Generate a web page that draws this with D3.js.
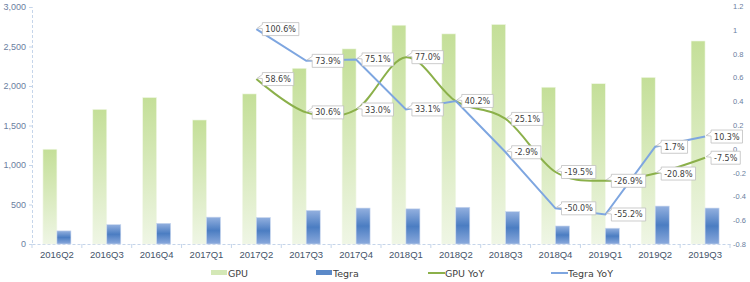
<!DOCTYPE html>
<html>
<head>
<meta charset="utf-8">
<script src="https://cdn.jsdelivr.net/npm/d3@7"></script>
<style>
  body { margin: 0; background: #fff; }
  svg { font-family: "DejaVu Sans", Verdana, sans-serif; }
</style>
</head>
<body>
<div id="chart"></div>
<script>
var quarters = ["2016Q2","2016Q3","2016Q4","2017Q1","2017Q2","2017Q3","2017Q4",
                "2018Q1","2018Q2","2018Q3","2018Q4","2019Q1","2019Q2","2019Q3"];
var gpu = [1200, 1705, 1855, 1570, 1900, 2225, 2470, 2770, 2660, 2780, 1985, 2030, 2110, 2570];
var tegra = [166, 245, 262, 340, 335, 425, 455, 445, 465, 410, 228, 200, 480, 455];
// YoY starts at 2017Q2, null before
var gpuYoy = [null, null, null, null, 0.586, 0.306, 0.330, 0.770, 0.400, 0.251, -0.195, -0.269, -0.208, -0.075];
var tegraYoy = [null, null, null, null, 1.006, 0.739, 0.751, 0.331, 0.402, -0.029, -0.500, -0.552, 0.017, 0.103];
var gpuLabelShow = [0,0,0,0,1,1,1,1,0,1,1,1,1,1];
var leftTicks = [0, 500, 1000, 1500, 2000, 2500, 3000];
var rightTicks = [-0.8, -0.6, -0.4, -0.2, 0, 0.2, 0.4, 0.6, 0.8, 1, 1.2];

var width = 750, height = 282;
var plot = {left: 32, right: 730, top: 7, bottom: 244};

var svg = d3.select("#chart").append("svg")
  .attr("width", width)
  .attr("height", height);

var defs = svg.append("defs");
var gG = defs.append("linearGradient").attr("id", "gpuGrad")
  .attr("x1", 0).attr("y1", 0).attr("x2", 0).attr("y2", 1);
gG.append("stop").attr("offset", "0%").attr("stop-color", "#c4df98");
gG.append("stop").attr("offset", "100%").attr("stop-color", "#eff6e5");
var tG = defs.append("linearGradient").attr("id", "tegraGrad")
  .attr("x1", 0).attr("y1", 0).attr("x2", 0).attr("y2", 1);
tG.append("stop").attr("offset", "0%").attr("stop-color", "#93b0df");
tG.append("stop").attr("offset", "50%").attr("stop-color", "#4b7dc2");
tG.append("stop").attr("offset", "100%").attr("stop-color", "#8aa9dc");

var x = d3.scaleBand().domain(quarters).range([plot.left, plot.right]);
var yL = d3.scaleLinear().domain([0, 3000]).range([plot.bottom, plot.top]);
var yR = d3.scaleLinear().domain([-0.8, 1.2]).range([plot.bottom, 6]);
var barW = 14;

// axes
var leftAxis = d3.axisLeft(yL).tickValues(leftTicks).tickSize(3).tickFormat(d3.format(","));
var gl = svg.append("g").attr("transform", "translate(" + plot.left + ",0)").call(leftAxis);
gl.select(".domain").attr("stroke", "#c5d5ea").attr("stroke-dasharray", "3,2");
gl.selectAll(".tick line").attr("stroke", "#c5d5ea");
gl.selectAll(".tick text").attr("fill", "#6a7ea0").attr("font-size", 9).attr("x", -6);

var rightAxis = d3.axisRight(yR).tickValues(rightTicks).tickSize(0)
  .tickFormat(d => String(Math.round(d * 10) / 10));
var gr = svg.append("g").attr("transform", "translate(" + (plot.right + 2) + ",0)").call(rightAxis);
gr.select(".domain").remove();
gr.selectAll(".tick text").attr("fill", "#6a7ea0").attr("font-size", 7.5).attr("x", 1);

var bottomAxis = d3.axisBottom(x).tickSize(0).tickPadding(7);
var gb = svg.append("g").attr("transform", "translate(0," + plot.bottom + ")").call(bottomAxis);
gb.select(".domain").attr("stroke", "#c5d5ea").attr("stroke-dasharray", "3,2");
gb.selectAll(".tick text").attr("fill", "#44546a").attr("font-size", 9.5);
gb.selectAll(".sep").data(quarters.concat(["end"])).enter().append("line")
  .attr("x1", (d, i) => plot.left + i * x.bandwidth())
  .attr("x2", (d, i) => plot.left + i * x.bandwidth())
  .attr("y1", 0).attr("y2", 4)
  .attr("stroke", "#c5d5ea");

// bars
svg.selectAll(".gpu").data(gpu).enter().append("rect")
  .attr("class", "gpu")
  .attr("x", (d, i) => x(quarters[i]) + x.bandwidth() / 2 - barW)
  .attr("y", d => yL(d))
  .attr("width", barW)
  .attr("height", d => plot.bottom - yL(d))
  .attr("fill", "url(#gpuGrad)")
  .attr("stroke", "#f4f9ec").attr("stroke-width", 0.6);

svg.selectAll(".tegra").data(tegra).enter().append("rect")
  .attr("class", "tegra")
  .attr("x", (d, i) => x(quarters[i]) + x.bandwidth() / 2)
  .attr("y", d => yL(d))
  .attr("width", barW)
  .attr("height", d => plot.bottom - yL(d))
  .attr("fill", "url(#tegraGrad)")
  .attr("stroke", "#c9d7ee").attr("stroke-width", 0.6);

// lines
var cx = (d, i) => x(quarters[i]) + x.bandwidth() / 2;
var gpuLine = d3.line().defined(d => d != null).x(cx).y(d => yR(d)).curve(d3.curveCardinal.tension(0));
var tegraLine = d3.line().defined(d => d != null).x(cx).y(d => yR(d));

svg.append("path").datum(gpuYoy).attr("d", gpuLine)
  .attr("fill", "none").attr("stroke", "#8bb04a").attr("stroke-width", 2);
svg.append("path").datum(tegraYoy).attr("d", tegraLine)
  .attr("fill", "none").attr("stroke", "#7ea6e0").attr("stroke-width", 2);

// callout labels
function callout(values, show) {
  values.forEach(function(v, i) {
    if (v == null || (show && !show[i])) return;
    var px = cx(v, i), py = yR(v);
    var txt = (v * 100).toFixed(1) + "%";
    var g = svg.append("g");
    var t = g.append("text").attr("x", px + 9).attr("y", py + 3)
      .attr("font-size", 8).attr("fill", "#404040").text(txt);
    var w = t.node().getComputedTextLength();
    var bx = px + 6, by = py - 6.5, bw = w + 6, bh = 13;
    g.insert("path", "text")
      .attr("d", "M" + bx + "," + (by + 2) + " L" + (px + 1) + "," + (py - 1) +
                 " L" + bx + "," + (by + 6) + " L" + bx + "," + (by + bh) +
                 " L" + (bx + bw) + "," + (by + bh) + " L" + (bx + bw) + "," + by +
                 " L" + bx + "," + by + " Z")
      .attr("fill", "#fff").attr("stroke", "#bfbfbf").attr("stroke-width", 0.8);
  });
}
callout(tegraYoy, null);
callout(gpuYoy, gpuLabelShow);

// legend
var legend = [
  {name: "GPU", type: "rect", fill: "#d4e8b6", x: 211},
  {name: "Tegra", type: "rect", fill: "#5b89c8", x: 316},
  {name: "GPU YoY", type: "line", fill: "#8bb04a", x: 428},
  {name: "Tegra YoY", type: "line", fill: "#7ea6e0", x: 551}
];
var lg = svg.selectAll(".lg").data(legend).enter().append("g");
lg.filter(d => d.type == "rect").append("rect")
  .attr("x", d => d.x).attr("y", 270).attr("width", 16).attr("height", 5).attr("fill", d => d.fill);
lg.filter(d => d.type == "line").append("line")
  .attr("x1", d => d.x).attr("x2", d => d.x + 17).attr("y1", 273).attr("y2", 273)
  .attr("stroke", d => d.fill).attr("stroke-width", 2);
lg.append("text").attr("x", d => d.x + 17).attr("y", 276.5)
  .attr("font-size", 9.5).attr("fill", "#404040").text(d => d.name);
</script>
</body>
</html>
